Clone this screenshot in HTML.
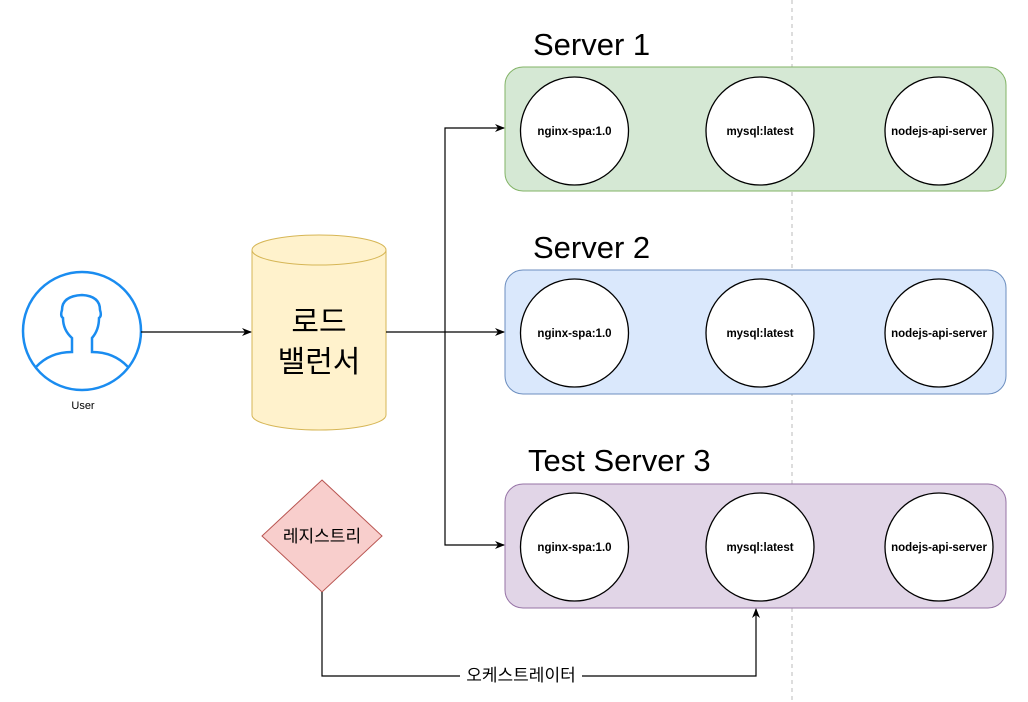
<!DOCTYPE html>
<html><head><meta charset="utf-8"><style>
body{margin:0;background:#fff}
svg{display:block}
</style></head><body>
<svg width="1028" height="702" viewBox="0 0 1028 702" xmlns="http://www.w3.org/2000/svg" font-family="Liberation Sans, Noto Sans CJK KR, sans-serif">
<defs><marker id="a" markerWidth="10" markerHeight="10" refX="9" refY="5" orient="auto" markerUnits="userSpaceOnUse"><path d="M0,1 L10,5 L0,9 L3,5 z" fill="#000"/></marker></defs>
<line x1="792" y1="0" x2="792" y2="702" stroke="#bbb" stroke-dasharray="4,4"/>
<rect x="505" y="67" width="501" height="124" rx="18" fill="#d5e8d4" stroke="#82b366"/>
<rect x="505" y="270" width="501" height="124" rx="18" fill="#dae8fc" stroke="#6c8ebf"/>
<rect x="505" y="484" width="501" height="124" rx="18" fill="#e1d5e7" stroke="#9673a6"/>
<g font-size="31" fill="#000">
<text x="533" y="55">Server 1</text>
<text x="533" y="258">Server 2</text>
<text x="528" y="471">Test Server 3</text>
</g>
<g fill="#fff" stroke="#000" stroke-width="1.3">
<circle cx="574.5" cy="131" r="54"/><circle cx="760" cy="131" r="54"/><circle cx="939" cy="131" r="54"/>
<circle cx="574.5" cy="333" r="54"/><circle cx="760" cy="333" r="54"/><circle cx="939" cy="333" r="54"/>
<circle cx="574.5" cy="547" r="54"/><circle cx="760" cy="547" r="54"/><circle cx="939" cy="547" r="54"/>
</g>
<g font-size="11.5" font-weight="bold" text-anchor="middle" fill="#000">
<text x="574.5" y="135">nginx-spa:1.0</text><text x="760" y="135">mysql:latest</text><text x="939" y="135">nodejs-api-server</text>
<text x="574.5" y="337">nginx-spa:1.0</text><text x="760" y="337">mysql:latest</text><text x="939" y="337">nodejs-api-server</text>
<text x="574.5" y="551">nginx-spa:1.0</text><text x="760" y="551">mysql:latest</text><text x="939" y="551">nodejs-api-server</text>
</g>
<circle cx="82" cy="331" r="59" fill="#fff" stroke="#1a8cf0" stroke-width="2.5"/>
<path d="M36,367 Q50,352 72,352 L72,338 Q63,330 63,318 Q60,316 62,310 Q62,296 82,295 Q100,296 100,310 Q102,316 99,318 Q99,330 92,338 L92,352 Q114,352 128,367" fill="none" stroke="#1a8cf0" stroke-width="2.5"/>
<text x="83" y="409" font-size="11" text-anchor="middle">User</text>
<path d="M252,250 L252,415 A67,15 0 0 0 386,415 L386,250" fill="#fff2cc" stroke="#d6b656"/>
<ellipse cx="319" cy="250" rx="67" ry="15" fill="#fff2cc" stroke="#d6b656"/>
<g font-size="30" text-anchor="middle"><text x="319" y="332">로드</text><text x="319" y="372">밸런서</text></g>
<polygon points="322,480 382,536 322,592 262,536" fill="#f8cecc" stroke="#b85450"/>
<text x="322" y="542" font-size="17" text-anchor="middle">레지스트리</text>
<g stroke="#000" fill="none" stroke-width="1.2">
<line x1="141" y1="332" x2="251" y2="332" marker-end="url(#a)"/>
<line x1="386" y1="332" x2="504" y2="332" marker-end="url(#a)"/>
<polyline points="445,332 445,128 504,128" marker-end="url(#a)"/>
<polyline points="445,332 445,545 504,545" marker-end="url(#a)"/>
<polyline points="322,592 322,676 756,676 756,609" marker-end="url(#a)"/>
</g>
<rect x="460" y="664" width="122" height="22" fill="#fff"/>
<text x="521" y="681" font-size="17" text-anchor="middle">오케스트레이터</text>
</svg>
</body></html>
